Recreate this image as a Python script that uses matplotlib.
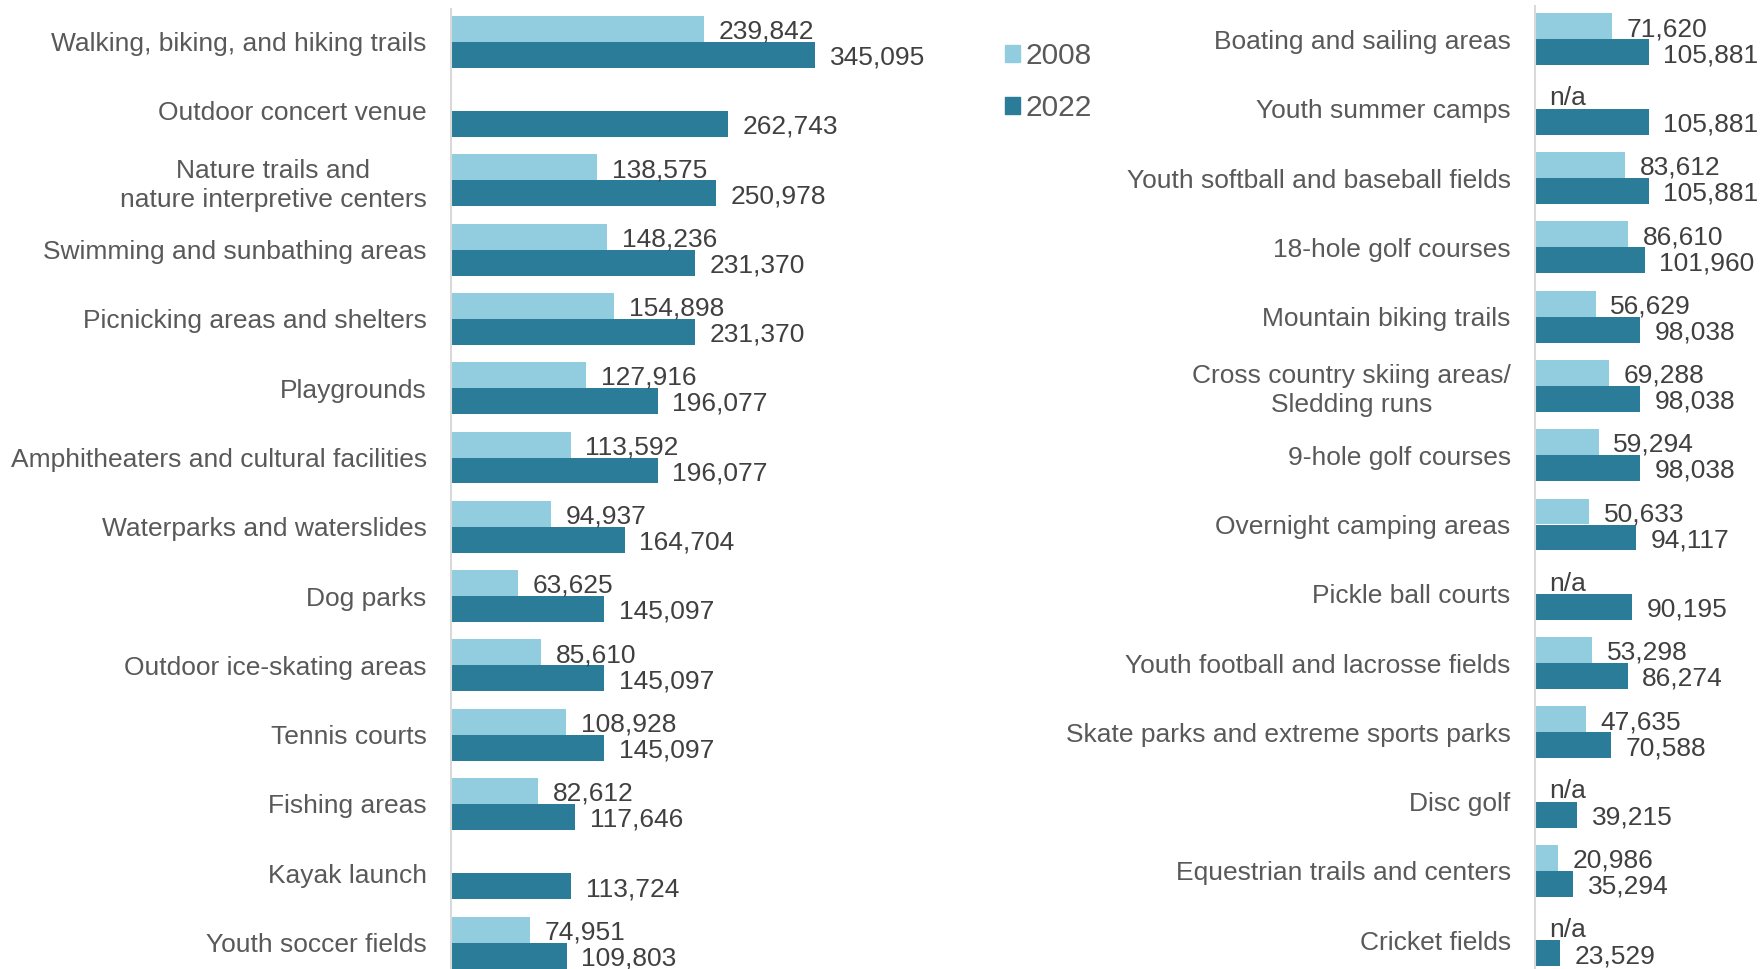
import numpy as np
import matplotlib
matplotlib.use('Agg')
import matplotlib.pyplot as plt
from matplotlib.patches import Patch

left_cats = ['Walking, biking, and hiking trails', 'Outdoor concert venue',
             'Nature trails and\nnature interpretive centers', 'Swimming and sunbathing areas',
             'Picnicking areas and shelters', 'Playgrounds', 'Amphitheaters and cultural facilities',
             'Waterparks and waterslides', 'Dog parks', 'Outdoor ice-skating areas', 'Tennis courts',
             'Fishing areas', 'Kayak launch', 'Youth soccer fields']
left_2008 = [239842, None, 138575, 148236, 154898, 127916, 113592, 94937, 63625, 85610,
             108928, 82612, None, 74951]
left_2022 = [345095, 262743, 250978, 231370, 231370, 196077, 196077, 164704, 145097, 145097,
             145097, 117646, 113724, 109803]

right_cats = ['Boating and sailing areas', 'Youth summer camps', 'Youth softball and baseball fields',
              '18-hole golf courses', 'Mountain biking trails',
              'Cross country skiing areas/\nSledding runs', '9-hole golf courses',
              'Overnight camping areas', 'Pickle ball courts', 'Youth football and lacrosse fields',
              'Skate parks and extreme sports parks', 'Disc golf', 'Equestrian trails and centers',
              'Cricket fields']
right_2008 = [71620, None, 83612, 86610, 56629, 69288, 59294, 50633, None, 53298, 47635,
              None, 20986, None]
right_2022 = [105881, 105881, 105881, 101960, 98038, 98038, 98038, 94117, 90195, 86274, 70588,
              39215, 35294, 23529]

years = ['2008', '2022']

LIGHT = '#92CDDF'
DARK = '#2A7C99'
LABEL_C = '#595959'
VALUE_C = '#404040'
FS = 19

plt.rcParams['font.family'] = ['Liberation Sans', 'DejaVu Sans']

W, H = 1765, 969
fig = plt.figure(figsize=(W / 100, H / 100), dpi=100)


def panel(x0, xpx, xmax, top_px, first_center, cats, v08, v22, missing):
    pitch = 69.3
    ax = fig.add_axes([x0 / W, 0, xpx / W, (H - top_px) / H])
    y = np.arange(len(cats))
    h = 0.375
    a08 = [0 if v is None else v for v in v08]
    ax.barh(y - h / 2, a08, height=h, color=LIGHT)
    ax.barh(y + h / 2, v22, height=h, color=DARK)
    for i in range(len(cats)):
        txt = missing if v08[i] is None else f'{v08[i]:,}'
        ax.annotate(txt, (a08[i], y[i] - h / 2), xytext=(10.5, -2), textcoords='offset points',
                    va='center', ha='left', fontsize=FS, color=VALUE_C)
        ax.annotate(f'{v22[i]:,}', (v22[i], y[i] + h / 2), xytext=(10.5, -2),
                    textcoords='offset points', va='center', ha='left', fontsize=FS,
                    color=VALUE_C, annotation_clip=False)
    ax.set_xlim(0, xmax)
    ax.set_ylim((H - first_center) / pitch, -(first_center - top_px) / pitch)
    ax.set_yticks(y)
    ax.set_yticklabels(cats, fontsize=FS, color=LABEL_C)
    for t in ax.get_yticklabels():
        t.set_multialignment('center')
        t.set_linespacing(1.25)
    ax.tick_params(left=False, bottom=False, labelbottom=False, pad=14)
    for s in ['top', 'right', 'bottom']:
        ax.spines[s].set_visible(False)
    ax.spines['left'].set_color('#D9D9D9')
    ax.spines['left'].set_linewidth(1.5)
    ax.patch.set_alpha(0)
    return ax


panel(451, 422, 400000, 9, 41.7, left_cats, left_2008, left_2022, '')
panel(1535, 230, 214000, 6, 39.4, right_cats, right_2008, right_2022, 'n/a')

fig.legend(handles=[Patch(color=LIGHT, label=years[0]), Patch(color=DARK, label=years[1])],
           loc='upper left', bbox_to_anchor=(1005 / W, 1 - 42.5 / H), frameon=False,
           handlelength=0.49, handleheight=0.49, handletextpad=0.18, labelspacing=0.78,
           borderpad=0, borderaxespad=0, fontsize=21.5, labelcolor=LABEL_C)

fig.savefig('out.png', dpi=100)
